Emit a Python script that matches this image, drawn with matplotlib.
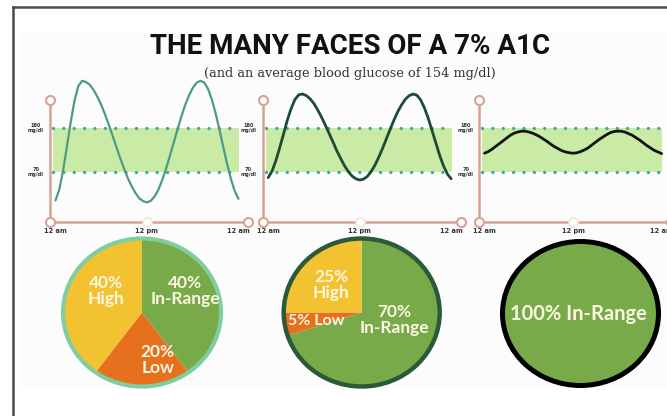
import matplotlib
matplotlib.use("Agg")
import matplotlib.pyplot as plt
from matplotlib import font_manager
from matplotlib.patches import Ellipse, Rectangle
from matplotlib.lines import Line2D

# ---------------- data ----------------
hours = [h / 2 for h in range(49)]          # readings every 30 minutes, 12 am to 12 am

glucose_swings = [-1, 26, 74, 134, 195, 249, 285, 298, 295, 288, 275, 258, 238, 214, 188,
                  160, 132, 104, 78, 54, 34, 17, 4, -3, -6, -2, 9, 26, 50, 78, 110, 143,
                  176, 208, 237, 261, 280, 293, 298, 294, 278, 252, 217, 176, 133, 91, 53,
                  23, 3]
glucose_moderate = [56, 72, 98, 130, 164, 199, 228, 251, 263, 265, 261, 253, 241, 225, 207,
                    187, 166, 145, 123, 104, 86, 71, 60, 53, 50, 52, 59, 71, 87, 107, 129,
                    153, 177, 200, 221, 238, 252, 261, 265, 262, 250, 230, 204, 173, 142,
                    111, 85, 65, 53]
glucose_steady = [117, 121, 127, 134, 141, 148, 155, 162, 167, 170, 172, 172, 170, 167, 163,
                  158, 152, 146, 139, 133, 128, 123, 120, 118, 117, 118, 121, 125, 130, 137,
                  144, 151, 157, 163, 168, 171, 172, 172, 170, 166, 162, 156, 150, 143, 136,
                  130, 124, 120, 116]

range_low, range_high = 70, 180
time_labels = ["12 am", "12 pm", "12 am"]
time_ticks = [0, 12, 24]

pie_names = ["In-Range", "Low", "High"]
pie_swings = [40, 20, 40]
pie_moderate = [70, 5, 25]
pie_steady = [100]

# ---------------- style ----------------
W, H = 667, 416
GREEN, YELLOW, ORANGE = "#78aa4a", "#f2c231", "#e7701e"
BAND = "#c9eba6"
DOTS = "#3fa9a0"
AXIS = "#d6a396"
TXT = "#fbf6e2"

names = {f.name for f in font_manager.fontManager.ttflist}
title_family = "Liberation Sans Narrow" if "Liberation Sans Narrow" in names else "Roboto"


def box(x0, y0, w, h):
    """Pixel box (top-left origin) to figure fraction."""
    return [x0 / W, 1 - (y0 + h) / H, w / W, h / H]


fig = plt.figure(figsize=(W / 100, H / 100), dpi=100)
fig.patch.set_facecolor("white")

# soft panel and frame
fig.patches.append(Rectangle((22 / W, 1 - 388 / H), (W - 22) / W, (388 - 33) / H,
                             transform=fig.transFigure, color="#fcfcfc", zorder=-5))
fig.lines.append(Line2D([13.5 / W, 13.5 / W], [0, 1 - 7 / H], transform=fig.transFigure,
                        color="#4a4a4a", lw=1.8))
fig.lines.append(Line2D([13.5 / W, 1], [1 - 7 / H, 1 - 7 / H], transform=fig.transFigure,
                        color="#4a4a4a", lw=1.8))

fig.text(350 / W, 1 - 46 / H, "THE MANY FACES OF A 7% A1C", ha="center", va="center",
         fontsize=20, fontweight="bold", family=title_family, color="#111111")
fig.text(350 / W, 1 - 73 / H, "(and an average blood glucose of 154 mg/dl)", ha="center",
         va="center", fontsize=9.3, family="DejaVu Serif", color="#333333")

# ---------------- glucose traces ----------------
X0, X1 = -0.72, 25.25
Y0, Y1 = -55, 312.5
Y_TOP = 250
traces = [
    (50, 198, glucose_swings, "#4d9b85", 1.6),
    (262.7, 198, glucose_moderate, "#1f4b34", 2.0),
    (479.3, 191.6, glucose_steady, "#141414", 2.0),
]
for left, width, values, color, lw in traces:
    ax = fig.add_axes(box(left, 75, width, 147))
    ax.set_xlim(X0, X1)
    ax.set_ylim(Y0, Y1)
    ax.axis("off")
    ax.fill_between([-0.3, 24.1], range_low, range_high, color=BAND, lw=0, zorder=1)
    for level in (range_low, range_high):
        ax.plot([-0.3, 24.1], [level, level], color=DOTS, lw=2.4,
                linestyle=(0, (0.01, 3.1)), dash_capstyle="round", zorder=2)
    ax.plot(hours, values, color=color, lw=lw, zorder=4, clip_on=False,
            solid_capstyle="round")
    ax.plot([X0, X0], [Y0, Y_TOP], color=AXIS, lw=1.8, zorder=3, clip_on=False)
    ax.plot([X0, X1], [Y0, Y0], color=AXIS, lw=1.8, zorder=3, clip_on=False)
    ax.plot([X0, X0, X1], [Y_TOP, Y0, Y0], "o", ms=6.5, mfc="white", mec=AXIS, mew=1.5,
            zorder=5, clip_on=False)
    ax.plot([12], [Y0], "o", ms=6.5, mfc="white", mec="#eee6e2", mew=1.2, zorder=5,
            clip_on=False)
    for level in (range_high, range_low):
        ax.text(X0 - 1.85, level, f"{level}\nmg/dl", ha="center", va="center",
                fontsize=3.6, fontweight="bold", color="#333333", linespacing=1.0)
    for t, lab in zip(time_ticks, time_labels):
        ax.text(t, Y0 - 22, lab, ha="center", va="center", fontsize=4.8,
                fontweight="bold", color="#333333", clip_on=False)

# ---------------- time-in-range pies ----------------
pies = [
    ((142, 312.5, 79, 74), pie_swings, [GREEN, ORANGE, YELLOW], "#7fcda0", 3.0,
     [(0.55, 0.29), (0.2, -0.64), (-0.46, 0.29)]),
    ((361.7, 312.5, 78, 74), pie_moderate, [GREEN, ORANGE, YELLOW], "#2b5a3a", 3.2,
     [(0.42, -0.095), (-0.58, -0.11), (-0.39, 0.37)]),
    ((580.5, 313.5, 78, 72), pie_steady, [GREEN], "#000000", 3.6,
     [(-0.03, 0.0)]),
]
for (cx, cy, rx, ry), vals, cols, ring, rlw, spots in pies:
    ax = fig.add_axes(box(cx - rx, cy - ry, 2 * rx, 2 * ry))
    ax.pie(vals, colors=cols, startangle=90, counterclock=False, radius=1,
           wedgeprops=dict(linewidth=0))
    ax.set_aspect("auto")
    ax.set_xlim(-1, 1)
    ax.set_ylim(-1, 1)
    ax.add_patch(Ellipse((0, 0), 2, 2, fill=False, ec=ring, lw=rlw, clip_on=False))
    for v, name, (px, py) in zip(vals, pie_names, spots):
        if len(vals) == 1:
            label, fs = f"{v}% {name}", 14.5
        elif v < 10:
            label, fs = f"{v}% {name}", 11.5
        else:
            label, fs = f"{v}%\n{name}", 12.5
        ax.text(px, py, label, ha="center", va="center", fontsize=fs, fontweight="bold",
                family="Lato", color=TXT, linespacing=1.0)

fig.savefig("out.png", dpi=100)
